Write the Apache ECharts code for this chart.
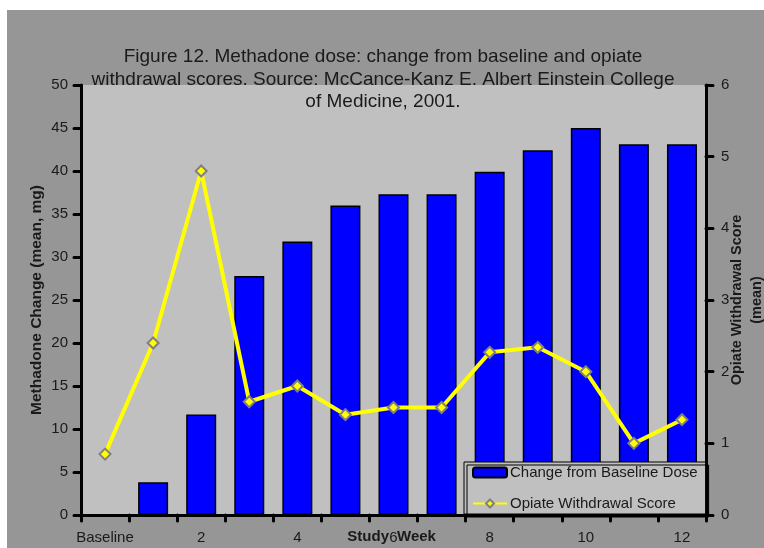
<!DOCTYPE html>
<html>
<head>
<meta charset="utf-8">
<script src="https://cdn.jsdelivr.net/npm/echarts@6/dist/echarts.min.js"></script>
<style>
  html, body { margin: 0; padding: 0; background: #ffffff; }
  #chart { width: 764px; height: 548px; }
</style>
</head>
<body>
<div id="chart"></div>
<script>
// Study weeks (Baseline, then weeks 1..12)
const weeks = ['Baseline', '1', '2', '3', '4', '5', '6', '7', '8', '9', '10', '11', '12'];
// Mean methadone dose change from baseline (mg)
const doseChange = [null, 3.8, 11.7, 27.8, 31.8, 36.0, 37.3, 37.3, 39.9, 42.4, 45.0, 43.1, 43.1];
// Mean opiate withdrawal score
const withdrawalScore = [0.85, 2.4, 4.8, 1.58, 1.8, 1.4, 1.5, 1.5, 2.27, 2.34, 2.0, 1.0, 1.33];

const doseTicks = { min: 0, max: 50, interval: 5 };
const scoreTicks = { min: 0, max: 6, interval: 1 };

const FONT = '"Liberation Sans", Arial, sans-serif';
const TXT = '#1a1a1a';

const chart = echarts.init(document.getElementById('chart'), null, { renderer: 'canvas' });

chart.setOption({
  animation: false,
  backgroundColor: '#ffffff',
  textStyle: { fontFamily: FONT },
  graphic: [
    {
      type: 'rect', z: -10, silent: true,
      shape: { x: 7, y: 10, width: 757, height: 538 },
      style: { fill: '#969696' }
    },
    {
      type: 'text', z: 10, silent: true,
      style: {
        x: 383, y: 46, align: 'center', verticalAlign: 'top',
        text: 'Figure 12. Methadone dose: change from baseline and opiate\nwithdrawal scores. Source: McCance-Kanz E. Albert Einstein College\nof Medicine, 2001.',
        font: '19px ' + FONT, fill: TXT, lineHeight: 22.5
      }
    },
    {
      type: 'text', silent: true,
      style: { x: 389, y: 537, align: 'right', verticalAlign: 'middle', text: 'Study',
        font: 'bold 15px ' + FONT, fill: TXT }
    },
    {
      type: 'text', silent: true,
      style: { x: 397, y: 537, align: 'left', verticalAlign: 'middle', text: 'Week',
        font: 'bold 15px ' + FONT, fill: TXT }
    }
  ],
  grid: {
    left: 81, right: 58, top: 85, bottom: 33,
    containLabel: false,
    outerBoundsMode: 'none',
    show: true, backgroundColor: '#c0c0c0', borderWidth: 0
  },
  legend: {
    orient: 'vertical',
    left: 464, top: 462,
    padding: [3, 8, 3, 8],
    itemGap: 16,
    itemWidth: 34, itemHeight: 10,
    backgroundColor: '#c0c0c0',
    borderColor: '#000000', borderWidth: 1,
    shadowColor: '#000000', shadowBlur: 0, shadowOffsetX: 3, shadowOffsetY: 3,
    textStyle: { fontSize: 15, color: TXT, fontFamily: FONT, padding: [0, 0, 0, -2] },
    data: ['Change from Baseline Dose', 'Opiate Withdrawal Score']
  },
  xAxis: {
    type: 'category',
    data: weeks,
    boundaryGap: true,
    axisLine: { lineStyle: { color: '#000', width: 3 } },
    axisTick: { show: true, interval: 0, length: 6, lineStyle: { color: '#000', width: 3, cap: 'round' } },
    axisLabel: { interval: 1, color: TXT, fontSize: 15, margin: 15 }
  },
  yAxis: [
    {
      type: 'value', position: 'left',
      min: doseTicks.min, max: doseTicks.max, interval: doseTicks.interval,
      name: 'Methadone Change (mean, mg)',
      nameLocation: 'middle', nameGap: 36, nameRotate: 90,
      nameMoveOverlap: false,
      nameTextStyle: { fontWeight: 'bold', fontSize: 15.5, color: TXT },
      axisLine: { show: true, lineStyle: { color: '#000', width: 3 } },
      axisTick: { show: true, length: 7, lineStyle: { color: '#000', width: 3, cap: 'round' } },
      axisLabel: { color: TXT, fontSize: 15, margin: 13 },
      splitLine: { show: false }
    },
    {
      type: 'value', position: 'right',
      min: scoreTicks.min, max: scoreTicks.max, interval: scoreTicks.interval,
      name: 'Opiate Withdrawal Score\n(mean)',
      nameLocation: 'middle', nameGap: 21, nameRotate: 90,
      nameMoveOverlap: false,
      nameTextStyle: { fontWeight: 'bold', fontSize: 14.5, color: TXT, lineHeight: 20 },
      axisLine: { show: true, lineStyle: { color: '#000', width: 3 } },
      axisTick: { show: true, length: 7, lineStyle: { color: '#000', width: 3, cap: 'round' } },
      axisLabel: { color: TXT, fontSize: 15, margin: 15 },
      splitLine: { show: false }
    }
  ],
  series: [
    {
      name: 'Change from Baseline Dose',
      type: 'bar',
      yAxisIndex: 0,
      data: doseChange,
      barWidth: 30,
      itemStyle: { color: '#0000ff', borderColor: '#000000', borderWidth: 1.5 }
    },
    {
      name: 'Opiate Withdrawal Score',
      type: 'line',
      yAxisIndex: 1,
      data: withdrawalScore,
      symbol: 'diamond',
      symbolSize: 11,
      lineStyle: { color: '#ffff00', width: 4 },
      itemStyle: { color: '#ffff00', borderColor: '#808080', borderWidth: 2 },
      z: 3
    }
  ]
});
</script>
</body>
</html>
